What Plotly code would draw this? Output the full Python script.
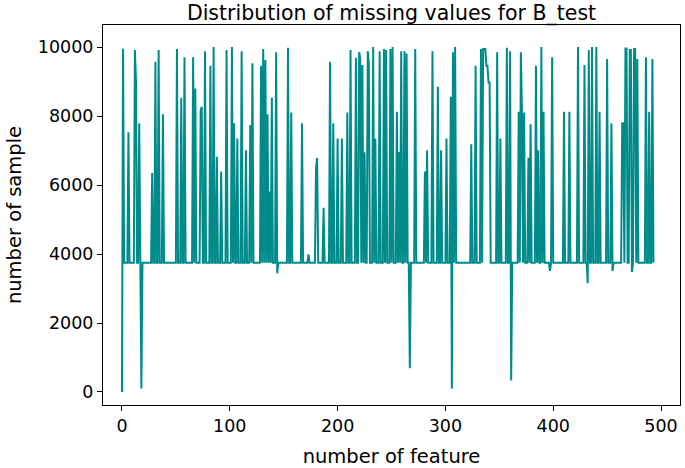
import plotly.graph_objects as go

# ---- data ----
N_FEATURES = 494
BASELINE = 3750  # most features share this count of missing samples
spike_index = [0, 1, 6, 12, 13, 16, 18, 28, 31, 34, 38,
               51, 55, 58, 66, 68, 73, 74, 77, 82, 85, 88, 92, 97, 102, 104, 107, 111, 115, 119, 121,
               129, 131, 133, 135, 137, 139, 143, 144,
               154, 157, 167, 173, 180, 181, 187, 193, 196, 200, 204, 209, 212, 217, 220, 221, 223, 225,
               228, 229, 233, 235, 239, 243, 245,
               249, 251, 255, 257, 259, 262, 264, 267, 272, 281, 283, 288, 293, 296, 301, 305, 306, 307,
               309, 324, 328, 333, 335, 336, 337, 338, 339, 340, 341,
               348, 351, 357, 360, 361, 368, 370, 371, 373, 377, 379, 384, 386, 389, 391, 397, 399, 410,
               415, 423, 429, 432, 433, 436, 440, 443,
               450, 454, 455, 464, 465, 467, 468, 471, 472, 473, 475, 476, 478, 486, 489, 492]
spike_value = [0, 9950, 7530, 9910, 9000, 7790, 100, 6350, 9575, 9910, 8050,
               9940, 8530, 9700, 9700, 8800, 8170, 8270, 9880, 9460, 10000, 6820, 6390, 9910, 10000, 7790,
               7350, 9880, 7010, 7740, 9530,
               9460, 9940, 9620, 8050, 5810, 8530, 9850, 3440,
               9980, 8100, 7790, 3990, 6500, 6790, 5340, 9575, 7790, 7350, 7350, 8100, 9910, 9690, 9850,
               9650, 9480, 6950, 9880, 9480, 10000, 7350, 9880, 9940, 9910,
               9940, 10000, 8120, 6960, 9880, 9880, 9810, 690, 9940, 6390, 7010, 9880, 8850, 7010, 7350,
               8560, 100, 9850, 10000, 7180, 9460, 9940, 9940, 9940, 9940, 9460, 9460, 8970, 8970,
               9850, 7350, 9980, 9880, 330, 8120, 9850, 8120, 8100, 6790, 7760, 9460, 7010, 10000, 8120,
               3510, 9700, 8120, 8120, 10000, 9480, 3150, 9910, 10000, 10000, 8120,
               9650, 7790, 3510, 7790, 7790, 9960, 9960, 9910, 9910, 3480, 9940, 9940, 9650, 9700, 8120,
               9650]

features = list(range(N_FEATURES))
missing = [BASELINE] * N_FEATURES
for i, v in zip(spike_index, spike_value):
    missing[i] = v

TITLE = "Distribution of missing values for B_test"
X_LABEL = "number of feature"
Y_LABEL = "number of sample"
x_ticks = [0, 100, 200, 300, 400, 500]
y_ticks = [0, 2000, 4000, 6000, 8000, 10000]
y_tick_text = ["0", "2000", "4000", "6000", "8000", "10000"]

FONT = "DejaVu Sans"

fig = go.Figure(go.Scatter(
    x=features, y=missing, mode="lines",
    line=dict(color="#008b8b", width=2),
    hoverinfo="x+y",
))

axis_common = dict(
    showline=True, linecolor="black", linewidth=1, mirror=True,
    ticks="outside", ticklen=5, tickwidth=1, tickcolor="black",
    showgrid=False, zeroline=False, automargin=False,
    tickfont=dict(family=FONT, size=17.5, color="black"),
)

fig.update_layout(
    width=685, height=468,
    margin=dict(l=103, r=5, t=25, b=63),
    paper_bgcolor="white", plot_bgcolor="white",
    showlegend=False,
    title=dict(text=TITLE, x=0.5, xref="paper", y=1 - 13 / 468, yref="container",
               yanchor="middle", xanchor="center",
               font=dict(family=FONT, size=20.5, color="black")),
    xaxis=dict(range=[-17.6, 517.6], tickvals=x_ticks,
               title=dict(text=X_LABEL, font=dict(family=FONT, size=19.5, color="black"), standoff=15),
               **axis_common),
    yaxis=dict(range=[-377, 10638], tickvals=y_ticks, ticktext=y_tick_text,
               title=dict(text=Y_LABEL, font=dict(family=FONT, size=19.5, color="black"), standoff=11),
               **axis_common),
)

# remove the page's default 8px body margin so the figure sits at the window's corner
fig.write_html("out.html", config={"displayModeBar": False},
               post_script="document.body.style.margin='0';")
